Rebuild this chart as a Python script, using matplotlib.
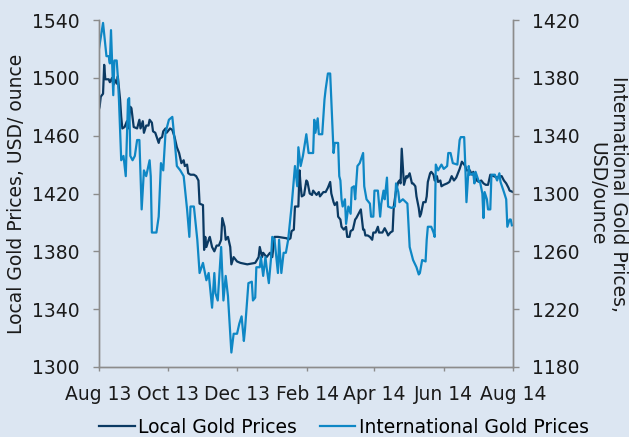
import datetime as dt
import matplotlib
matplotlib.use("Agg")
import matplotlib.pyplot as plt
import matplotlib.dates as mdates

start_date = dt.date(2013, 8, 1)

# Local gold prices (USD/ounce) – day offsets from 1 Aug 2013
local_days = [0, 1, 2, 4, 5, 6, 9, 10, 12, 13, 14, 16, 17, 19, 20, 21, 23, 25, 26, 28,
              29, 31, 34, 36, 37, 39, 40, 42, 44, 45, 47, 48, 50, 53, 54, 56, 57, 59, 60, 63,
              65, 67, 69, 71, 73, 75, 76, 78, 79, 81, 84, 86, 88, 89, 92, 93, 94, 95, 97, 98,
              100, 102, 104, 106, 108, 109, 111, 112, 114, 116, 117, 119, 122, 125, 131, 138, 141, 142, 144, 145,
              148, 151, 153, 155, 158, 166, 167, 169, 170, 172, 173, 176, 177, 178, 179, 181, 183, 184, 186, 188,
              189, 191, 192, 194, 195, 197, 198, 200, 202, 204, 205, 207, 208, 210, 211, 213, 214, 216, 218, 219,
              221, 222, 224, 226, 227, 229, 231, 233, 234, 235, 237, 239, 241, 242, 244, 246, 247, 250, 252, 254,
              255, 257, 259, 260, 262, 264, 265, 266, 267, 268, 269, 271, 272, 274, 276, 277, 279, 280, 282, 283,
              284, 286, 288, 289, 290, 292, 293, 295, 296, 298, 299, 301, 302, 304, 307, 309, 311, 313, 315, 318,
              320, 321, 323, 324, 327, 329, 330, 333, 335, 337, 339, 341, 343, 345, 348, 351, 353, 355, 357, 359,
              361, 362, 365]
local_prices = [1477, 1480, 1487, 1489, 1509, 1499, 1499, 1497, 1500, 1495, 1499, 1496, 1501, 1485, 1473, 1465, 1466, 1470, 1465, 1480,
                1479, 1466, 1465, 1471, 1465, 1470, 1462, 1467, 1467, 1471, 1469, 1463, 1462, 1455, 1458, 1459, 1463, 1465, 1462, 1465,
                1464, 1459, 1452, 1448, 1441, 1443, 1439, 1440, 1434, 1433, 1433, 1432, 1429, 1413, 1412, 1381, 1390, 1383, 1388, 1390,
                1383, 1380, 1384, 1384, 1388, 1403, 1397, 1388, 1390, 1383, 1371, 1376, 1373, 1372, 1371, 1372, 1376, 1383, 1376, 1379,
                1376, 1379, 1376, 1390, 1390, 1389, 1388, 1389, 1394, 1395, 1411, 1411, 1436, 1425, 1418, 1419, 1429, 1428, 1420, 1419,
                1422, 1420, 1419, 1421, 1418, 1420, 1421, 1421, 1424, 1428, 1420, 1414, 1412, 1414, 1404, 1402, 1397, 1395, 1397, 1390,
                1390, 1394, 1395, 1402, 1403, 1406, 1409, 1395, 1395, 1391, 1391, 1390, 1388, 1393, 1393, 1397, 1393, 1393, 1396, 1393,
                1391, 1393, 1394, 1411, 1422, 1428, 1429, 1427, 1451, 1439, 1426, 1432, 1431, 1434, 1427, 1427, 1425, 1418, 1410, 1404,
                1406, 1414, 1414, 1418, 1428, 1434, 1435, 1433, 1429, 1432, 1428, 1429, 1425, 1426, 1427, 1428, 1432, 1429, 1431, 1437,
                1442, 1441, 1439, 1436, 1436, 1433, 1435, 1429, 1428, 1429, 1427, 1426, 1426, 1433, 1432, 1431, 1432, 1432, 1429, 1427,
                1424, 1422, 1421]

# International gold prices (USD/ounce) – day offsets from 1 Aug 2013
intl_days = [0, 4, 7, 9, 10, 11, 13, 14, 16, 17, 18, 20, 22, 24, 26, 27, 28, 30, 32, 34,
             36, 38, 40, 42, 45, 46, 47, 51, 53, 55, 57, 59, 62, 65, 67, 69, 72, 75, 78, 80,
             81, 84, 87, 89, 92, 95, 97, 100, 102, 103, 105, 108, 110, 112, 114, 117, 119, 122, 124, 126,
             128, 129, 132, 135, 136, 138, 139, 142, 143, 145, 147, 148, 150, 152, 153, 155, 158, 159, 161, 163,
             165, 167, 170, 173, 175, 176, 178, 180, 183, 185, 189, 190, 191, 193, 194, 197, 199, 200, 202, 204,
             205, 207, 208, 211, 212, 213, 214, 215, 217, 218, 220, 222, 223, 225, 226, 228, 230, 233, 234, 236,
             239, 240, 242, 243, 246, 247, 248, 249, 251, 252, 254, 255, 258, 261, 262, 264, 265, 268, 272, 274,
             277, 280, 282, 283, 285, 288, 289, 290, 293, 295, 296, 297, 299, 302, 304, 307, 308, 310, 312, 316,
             318, 319, 322, 323, 324, 326, 327, 330, 331, 332, 335, 336, 338, 339, 340, 342, 343, 345, 346, 349,
             351, 353, 354, 357, 359, 360, 362, 363, 364]
intl_prices = [1398, 1418, 1395, 1395, 1390, 1413, 1368, 1392, 1392, 1381, 1365, 1323, 1326, 1312, 1365, 1366, 1326, 1323, 1326, 1337,
               1337, 1289, 1316, 1312, 1323, 1312, 1273, 1273, 1284, 1321, 1316, 1342, 1351, 1353, 1337, 1319, 1316, 1312, 1289, 1270,
               1291, 1291, 1268, 1245, 1252, 1240, 1245, 1221, 1245, 1231, 1226, 1263, 1226, 1243, 1229, 1190, 1203, 1203, 1210, 1215,
               1198, 1206, 1238, 1239, 1226, 1228, 1249, 1249, 1256, 1243, 1256, 1249, 1238, 1256, 1270, 1268, 1245, 1268, 1245, 1259,
               1259, 1268, 1291, 1319, 1305, 1332, 1319, 1326, 1341, 1328, 1328, 1351, 1342, 1352, 1341, 1341, 1365, 1372, 1383, 1383,
               1365, 1328, 1335, 1335, 1312, 1309, 1296, 1291, 1296, 1279, 1291, 1286, 1304, 1305, 1296, 1319, 1321, 1328, 1305, 1296,
               1293, 1284, 1284, 1302, 1302, 1293, 1284, 1293, 1302, 1296, 1311, 1291, 1290, 1291, 1307, 1301, 1294, 1296, 1293, 1263,
               1254, 1249, 1244, 1245, 1254, 1253, 1268, 1277, 1277, 1273, 1270, 1320, 1316, 1320, 1317, 1319, 1328, 1328, 1321, 1320,
               1337, 1339, 1339, 1319, 1294, 1319, 1313, 1314, 1307, 1315, 1308, 1308, 1300, 1283, 1301, 1296, 1289, 1289, 1313, 1313,
               1309, 1314, 1308, 1301, 1296, 1277, 1282, 1282, 1278]

local_ticks = [1300, 1340, 1380, 1420, 1460, 1500, 1540]
intl_ticks = [1180, 1220, 1260, 1300, 1340, 1380, 1420]
x_tick_dates = [dt.date(2013, 8, 1), dt.date(2013, 10, 1), dt.date(2013, 12, 1), dt.date(2014, 2, 1),
                dt.date(2014, 4, 1), dt.date(2014, 6, 1), dt.date(2014, 8, 1)]

local_dates = [start_date + dt.timedelta(days=d) for d in local_days]
intl_dates = [start_date + dt.timedelta(days=d) for d in intl_days]

BG = "#DCE6F2"
SPINE = "#8C8C8C"
TXT = "#1a1a1a"
C_LOCAL = "#0B3A63"
C_INTL = "#0E87C5"

plt.rcParams['font.family'] = ['DejaVu Sans']
fig = plt.figure(figsize=(6.29, 4.37), dpi=100, facecolor=BG)
ax1 = fig.add_axes([0.1566, 0.1602, 0.6590, 0.7940])
ax1.set_facecolor(BG)
ax2 = ax1.twinx()

l1, = ax1.plot(local_dates, local_prices, color=C_LOCAL, lw=1.6, label="Local Gold Prices")
l2, = ax2.plot(intl_dates, intl_prices, color=C_INTL, lw=1.6, label="International Gold Prices")

ax1.set_xlim(dt.date(2013, 8, 1), dt.date(2014, 8, 1))
ax1.set_ylim(1300, 1540)
ax2.set_ylim(1180, 1420)
ax1.set_yticks(local_ticks)
ax2.set_yticks(intl_ticks)
ax1.set_xticks(x_tick_dates)
ax1.xaxis.set_major_formatter(mdates.DateFormatter('%b %y'))

fs = 13.5
for ax in (ax1, ax2):
    for s in ax.spines.values():
        s.set_color(SPINE)
        s.set_linewidth(1.0)
    ax.spines['top'].set_visible(False)
    ax.tick_params(colors=SPINE, labelcolor=TXT, labelsize=fs, length=4, width=1.0)
ax1.tick_params(axis='x', length=3, pad=10)
ax1.tick_params(axis='y', pad=9.5)
ax2.tick_params(axis='y', pad=10)

ax1.set_ylabel("Local Gold Prices, USD/ ounce", fontsize=fs, color=TXT,
               va='center', ha='center')
ax1.yaxis.set_label_coords(-0.197, 0.5)
ax2.set_ylabel("International Gold Prices,\nUSD/ounce", fontsize=fs, color=TXT,
               rotation=-90, va='center', ha='center', linespacing=1.15)
ax2.yaxis.set_label_coords(1.229, 0.5)

fig.legend(handles=[l1, l2], loc='center', bbox_to_anchor=(0.547, 0.022), ncol=2,
           frameon=False, fontsize=fs, handlelength=1.9, handletextpad=0.2,
           columnspacing=1.2, borderpad=0.0)

fig.savefig("out.png", dpi=100, facecolor=BG)
